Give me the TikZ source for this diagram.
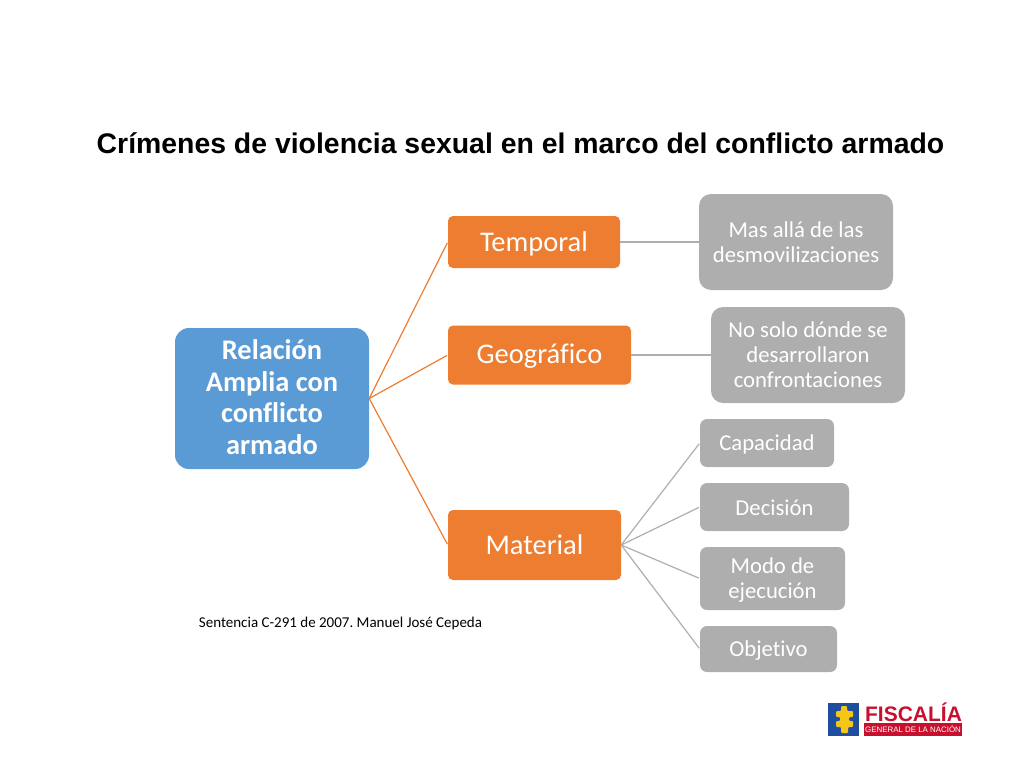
\documentclass[tikz,border=0pt]{standalone}
\usepackage{fontspec}
\setmainfont[Ligatures=NoCommon]{Carlito}
\newfontfamily\arialfont{Liberation Sans}
\definecolor{blueBox}{HTML}{5B9BD5}
\definecolor{orangeBox}{HTML}{ED7D31}
\definecolor{greyBox}{HTML}{AEAEAE}
\definecolor{fiscaliaRed}{HTML}{C8102E}
\definecolor{fiscaliaBlue}{HTML}{1F4E9E}
\definecolor{fiscaliaYellow}{HTML}{F5C518}
\tikzset{
  rootbox/.style={fill=blueBox,rounded corners=14pt,text=white,align=center,inner sep=0pt,
    minimum width=194pt,minimum height=141pt,font=\fontsize{28.4}{31.5}\selectfont\bfseries},
  midbox/.style={fill=orangeBox,rounded corners=5pt,text=white,align=center,inner sep=0pt,
    font=\fontsize{28.5}{34}\selectfont},
  leafbox/.style={fill=greyBox,rounded corners=7pt,text=white,align=center,inner sep=0pt,
    font=\fontsize{22.7}{25}\selectfont},
  orangeline/.style={draw=orangeBox,line width=1.2pt},
  greyline/.style={draw=greyBox,line width=1.2pt},
}
\begin{document}
\begin{tikzpicture}[x=1pt,y=-1pt]
    \useasboundingbox(0,0)rectangle(1024,768);
    \node[font=\arialfont\fontsize{28.4}{32}\selectfont\bfseries] (title) at (520.5,143)
        {Crímenes de violencia sexual en el marco del conflicto armado};
    \node[rootbox] (relacion) at (272,398.5) {Relación\\Amplia con\\conflicto\\armado\rule[-3pt]{0pt}{3pt}};
    \node[midbox,minimum width=172pt,minimum height=52pt] (temporal) at (534,242) {\rule{0pt}{24pt}Temporal};
    \node[midbox,minimum width=183pt,minimum height=59pt] (geografico) at (539.5,355) {\rule{0pt}{22pt}Geográfico};
    \node[midbox,minimum width=173pt,minimum height=70pt] (material) at (534.5,545) {Material};
    \node[leafbox,minimum width=194pt,minimum height=96pt,rounded corners=12pt] (masalla) at (796,242)
        {Mas allá de las\\desmovilizaciones};
    \node[leafbox,minimum width=194pt,minimum height=96pt,rounded corners=12pt] (nosolo) at (808,355)
        {No solo dónde se\\desarrollaron\\confrontaciones};
    \node[leafbox,minimum width=134pt,minimum height=48pt] (capacidad) at (767,443) {\rule{0pt}{19pt}Capacidad};
    \node[leafbox,minimum width=149pt,minimum height=48pt] (decision) at (774.5,507) {\rule{0pt}{17.5pt}Decisión};
    \node[leafbox,minimum width=145pt,minimum height=63pt] (modo) at (772.5,578.5) {\rule{0pt}{19pt}Modo de\\ejecución};
    \node[leafbox,minimum width=137pt,minimum height=46pt] (objetivo) at (768.5,649) {\rule{0pt}{19pt}Objetivo};
    \node[font=\fontsize{15}{18}\selectfont] (sentencia) at (340.5,623.5)
        {\frenchspacing Sentencia C-291 de 2007. Manuel José Cepeda};
    % connectors
    \foreach \to in {temporal,geografico,material}
        \draw[orangeline,shorten >=1pt] (relacion.east) -- (\to.west);
    \draw[greyline] (temporal.east) -- (masalla.west);
    \draw[greyline] (geografico.east) -- (nosolo.west);
    \foreach \to in {capacidad,decision,modo,objetivo}
        \draw[greyline,shorten >=1pt] (material.east) -- (\to.west);
    % logo
    \node[fill=fiscaliaBlue,minimum width=31pt,minimum height=33pt,inner sep=0pt] (escudo) at (843.5,719.5) {};
    \fill[fiscaliaYellow,rounded corners=1pt] (841,706)--(847,706)--(847,711)--(853,711)--(853,717)--(849,717)
        --(849,721)--(853,721)--(853,727)--(848,727)--(848,733)--(841,733)--(841,727)--(836,727)--(836,721)
        --(840,721)--(840,717)--(836,717)--(836,711)--(841,711)--cycle;
    \node[font=\arialfont\fontsize{21}{22}\selectfont\bfseries,text=fiscaliaRed,inner sep=0pt] (fiscalia) at (913.5,712.5) {FISCALÍA};
    \node[fill=fiscaliaRed,text=white,minimum width=98pt,minimum height=13pt,inner sep=0pt,
        font=\arialfont\fontsize{7.9}{10}\selectfont] (nacion) at (913,729.5) {GENERAL DE LA NACIÓN};
\end{tikzpicture}
\end{document}
